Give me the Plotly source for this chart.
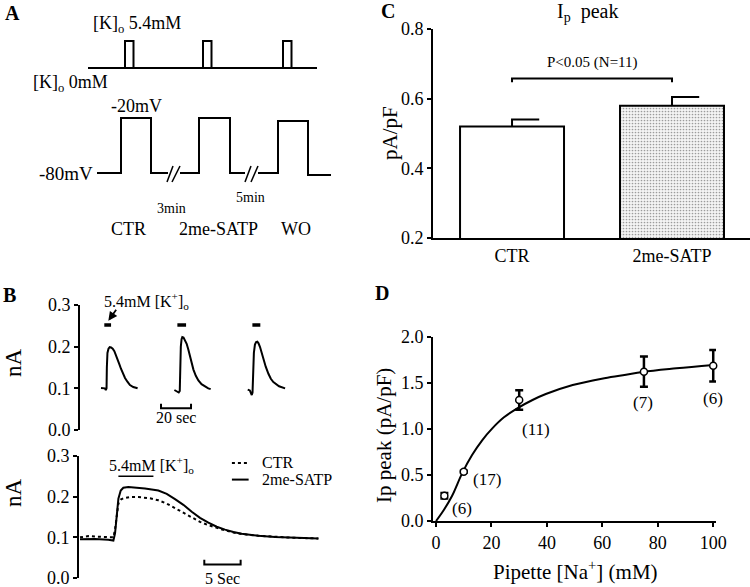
import plotly.graph_objects as go

W, H = 750, 587
FONT = "Liberation Serif"

# ---------------- Panel A (schematic protocol, schematic units) ----------------
k_line_x = [88, 317]
k_base = 68
k_pulse_top = 41
k_pulse_starts = [125, 203, 283]
k_pulse_width = 8.5

v_segments_x = [[97, 121, 121, 151, 151, 168],
                [180, 199, 199, 230, 230, 245],
                [258, 278, 278, 308, 308, 331]]
v_segments_y = [[173, 173, 118, 118, 173, 173],
                [173, 173, 118, 118, 173, 173],
                [173, 173, 121, 121, 175, 175]]
break_marks_x = [[167, 173], [172, 180], [245, 251], [251, 258]]
break_marks_y = [[182, 166], [182, 166], [182, 166], [182, 166]]

# ---------------- Panel B upper (three sweeps, seconds / nA) ----------------
sweep1_t = [0, 2.5, 3.2, 3.7, 3.9, 4.3, 5.0, 5.8, 6.7, 7.8, 8.9, 10, 11.1, 12.2, 13.3, 14.6, 16, 17.6, 19.3, 21.5, 24.4]
sweep1_i = [0.101, 0.100, 0.096, 0.100, 0.150, 0.185, 0.195, 0.199, 0.198, 0.195, 0.189, 0.180, 0.170, 0.158, 0.147, 0.135, 0.125, 0.116, 0.108, 0.103, 0.100]
sweep2_t = [48.9, 50.5, 51.8, 52.5, 52.8, 53.2, 53.7, 54.2, 55.0, 56.0, 57.1, 58.2, 59.3, 60.5, 61.6, 63.2, 64.9, 67, 69.3, 71.5, 73.1]
sweep2_i = [0.096, 0.093, 0.090, 0.094, 0.150, 0.200, 0.218, 0.223, 0.222, 0.216, 0.207, 0.193, 0.177, 0.160, 0.145, 0.130, 0.119, 0.110, 0.104, 0.100, 0.098]
sweep3_t = [97.8, 99.2, 100.0, 100.5, 101.0, 101.4, 101.9, 102.6, 103.4, 104.2, 105.0, 106.0, 107.0, 108.2, 109.8, 111.6, 113.2, 114.9, 116.8, 118.7, 122.7]
sweep3_i = [0.097, 0.095, 0.088, 0.084, 0.090, 0.140, 0.185, 0.205, 0.211, 0.212, 0.208, 0.199, 0.186, 0.170, 0.152, 0.135, 0.123, 0.115, 0.109, 0.105, 0.100]
k_app_upper = [[2.2, 6.7], [50.9, 56.7], [100.9, 106.2]]
k_app_level = 0.252
scale20_t = [40, 60]

# ---------------- Panel B lower (superimposed, seconds / nA) ----------------
ctr_t = [0, 1.15, 2.06, 3.9, 4.59, 4.82, 5.05, 5.28, 5.6, 5.96, 6.88, 8.03, 9.63, 10.78, 11.93, 13.07, 14.22, 15.37, 16.51, 17.66, 18.81, 19.95, 21.1, 22.25, 24.54, 26.83, 29.13, 31.4, 32.8]
ctr_i = [0.100, 0.103, 0.102, 0.101, 0.100, 0.120, 0.160, 0.183, 0.193, 0.196, 0.199, 0.199, 0.196, 0.191, 0.183, 0.172, 0.160, 0.148, 0.138, 0.130, 0.123, 0.117, 0.112, 0.108, 0.104, 0.101, 0.099, 0.098, 0.097]
satp_t = [0, 2.06, 3.9, 4.59, 4.82, 5.05, 5.28, 5.6, 5.96, 6.65, 7.57, 8.94, 10.78, 11.93, 13.07, 14.22, 15.37, 16.51, 17.66, 18.81, 19.95, 21.1, 22.25, 24.54, 26.83, 29.13, 31.4, 32.8]
satp_i = [0.095, 0.096, 0.094, 0.092, 0.110, 0.160, 0.195, 0.215, 0.222, 0.224, 0.223, 0.220, 0.215, 0.207, 0.194, 0.180, 0.163, 0.148, 0.136, 0.126, 0.119, 0.113, 0.109, 0.104, 0.101, 0.099, 0.098, 0.097]
k_app_lower = [5.28, 10.1]
k_app_lower_level = 0.25
scale5_t = [17.1, 22.1]

# ---------------- Panel C ----------------
c_groups = ["CTR", "2me-SATP"]
c_means = [0.52, 0.58]
c_sem = [0.02, 0.025]
c_sig_text = "P<0.05 (N=11)"

# ---------------- Panel D ----------------
na_conc = [3, 10, 30, 75, 100]
ip_peak = [0.275, 0.536, 1.315, 1.623, 1.688]
ip_sem = [0.03, 0.01, 0.105, 0.165, 0.172]
n_cells = ["(6)", "(17)", "(11)", "(7)", "(6)"]
n_label_x = [9.4, 18.5, 36.2, 74.6, 100]
n_label_y = [0.14, 0.446, 1.0, 1.286, 1.337]
fit_x = [0, 2.8, 5.8, 9.4, 13.0, 16.7, 20.3, 24.5, 29.3, 34.8, 39.6, 49.3, 59.8, 67.4, 74.6, 86.7, 100]
fit_y = [0, 0.12, 0.275, 0.518, 0.717, 0.880, 1.007, 1.127, 1.225, 1.315, 1.380, 1.478, 1.547, 1.583, 1.620, 1.659, 1.696]


def px(x):
    return x / W


def py(y):
    return 1 - y / H


fig = go.Figure()
blk = dict(color="black", width=2)

# Panel A traces
fig.add_trace(go.Scatter(x=k_line_x, y=[k_base, k_base], mode="lines", line=blk, xaxis="x", yaxis="y"))
for s in k_pulse_starts:
    fig.add_trace(go.Scatter(x=[s, s, s + k_pulse_width, s + k_pulse_width, s],
                             y=[k_base, k_pulse_top, k_pulse_top, k_base, k_base],
                             mode="lines", line=blk, xaxis="x", yaxis="y"))
for sx, sy in zip(v_segments_x, v_segments_y):
    fig.add_trace(go.Scatter(x=sx, y=sy, mode="lines", line=blk, xaxis="x", yaxis="y"))
for bx, by in zip(break_marks_x, break_marks_y):
    fig.add_trace(go.Scatter(x=bx, y=by, mode="lines", line=dict(color="black", width=1.5), xaxis="x", yaxis="y"))

# Panel B upper
for t, i in [(sweep1_t, sweep1_i), (sweep2_t, sweep2_i), (sweep3_t, sweep3_i)]:
    fig.add_trace(go.Scatter(x=t, y=i, mode="lines", line=blk, xaxis="x2", yaxis="y2"))
for a, b in k_app_upper:
    fig.add_trace(go.Scatter(x=[a, b], y=[k_app_level, k_app_level], mode="lines",
                             line=dict(color="black", width=3.5), xaxis="x2", yaxis="y2"))
fig.add_trace(go.Scatter(x=[scale20_t[0], scale20_t[0], scale20_t[1], scale20_t[1]],
                         y=[0.063, 0.052, 0.052, 0.063], mode="lines", line=blk, xaxis="x2", yaxis="y2"))

# Panel B lower
fig.add_trace(go.Scatter(x=ctr_t, y=ctr_i, mode="lines", line=dict(color="black", width=2, dash="dot"),
                         xaxis="x3", yaxis="y3"))
fig.add_trace(go.Scatter(x=satp_t, y=satp_i, mode="lines", line=blk, xaxis="x3", yaxis="y3"))
fig.add_trace(go.Scatter(x=k_app_lower, y=[k_app_lower_level] * 2, mode="lines",
                         line=dict(color="black", width=1.5), xaxis="x3", yaxis="y3"))
fig.add_trace(go.Scatter(x=[scale5_t[0], scale5_t[0], scale5_t[1], scale5_t[1]],
                         y=[0.045, 0.033, 0.033, 0.045], mode="lines", line=blk, xaxis="x3", yaxis="y3"))
fig.add_trace(go.Scatter(x=[20.9, 23.2], y=[0.283, 0.283], mode="lines",
                         line=dict(color="black", width=2, dash="dot"), xaxis="x3", yaxis="y3"))
fig.add_trace(go.Scatter(x=[20.9, 23.2], y=[0.242, 0.242], mode="lines", line=blk, xaxis="x3", yaxis="y3"))

# Panel C
fig.add_trace(go.Bar(x=[0, 1], y=c_means, width=0.65,
                     marker=dict(color=["white", "#f4f4f4"],
                                 line=dict(color="black", width=2),
                                 pattern=dict(shape=["", "."], fgcolor="#9a9a9a", bgcolor="white",
                                              size=3, solidity=0.25)),
                     xaxis="x4", yaxis="y4"))
for k, (m, e) in enumerate(zip(c_means, c_sem)):
    fig.add_trace(go.Scatter(x=[k, k, k + 0.17], y=[m, m + e, m + e], mode="lines", line=blk,
                             xaxis="x4", yaxis="y4"))
fig.add_trace(go.Scatter(x=[0, 0, 1, 1], y=[0.647, 0.658, 0.658, 0.647], mode="lines", line=blk,
                         xaxis="x4", yaxis="y4"))

# Panel D
fig.add_trace(go.Scatter(x=fit_x, y=fit_y, mode="lines", line=dict(color="black", width=2, shape="spline"),
                         xaxis="x5", yaxis="y5", cliponaxis=False))
fig.add_trace(go.Scatter(x=na_conc, y=ip_peak, mode="markers", cliponaxis=False,
                         marker=dict(symbol="circle", size=7, color="white", line=dict(color="black", width=1.5)),
                         error_y=dict(type="data", array=ip_sem, color="black", thickness=2.5, width=4),
                         xaxis="x5", yaxis="y5"))

tickfont = dict(family=FONT, size=18, color="black")
hidden = dict(visible=False, showgrid=False, zeroline=False)
yax = dict(showline=True, linecolor="black", linewidth=2, ticks="outside", ticklen=4, tickwidth=2,
           tickcolor="black", showgrid=False, zeroline=False, tickfont=tickfont, tickformat=".1f",
           automargin=False, ticklabeloverflow="allow")

fig.update_layout(
    width=W, height=H, autosize=False, showlegend=False, hovermode=False,
    margin=dict(l=0, r=0, t=0, b=0, pad=0, autoexpand=False),
    paper_bgcolor="white", plot_bgcolor="rgba(0,0,0,0)",
    font=dict(family=FONT, color="black"),
    xaxis=dict(domain=[0, px(370)], range=[0, 370], **hidden),
    yaxis=dict(domain=[py(280), 1], range=[280, 0], anchor="x", **hidden),
    xaxis2=dict(domain=[px(80), px(370)], range=[-14, 179.3], anchor="y2", **hidden),
    yaxis2=dict(domain=[py(430), py(305)], range=[0, 0.3], anchor="x2", tickvals=[0, 0.1, 0.2, 0.3], **yax),
    xaxis3=dict(domain=[px(79), px(370)], range=[-0.14, 39.9], anchor="y3", **hidden),
    yaxis3=dict(domain=[py(578), py(456)], range=[0, 0.3], anchor="x3", tickvals=[0, 0.1, 0.2, 0.3], **yax),
    xaxis4=dict(domain=[px(433), 1], range=[-0.494, 1.4875], anchor="y4", showline=True, linecolor="black",
                linewidth=2, ticks="", tickvals=[0, 1], ticktext=c_groups, tickfont=tickfont,
                showgrid=False, zeroline=False, automargin=False, ticklabeloverflow="allow"),
    yaxis4=dict(domain=[py(238), py(29)], range=[0.2, 0.8], anchor="x4", tickvals=[0.2, 0.4, 0.6, 0.8], **yax),
    xaxis5=dict(domain=[px(433), px(716)], range=[-1.1, 101], anchor="y5", showline=True, linecolor="black",
                linewidth=2, ticks="outside", ticklen=4, tickwidth=2, tickcolor="black",
                tickvals=[0, 20, 40, 60, 80, 100], tickfont=tickfont, showgrid=False, zeroline=False,
                automargin=False, ticklabeloverflow="allow"),
    yaxis5=dict(domain=[py(521), py(337)], range=[0, 2.0], anchor="x5", tickvals=[0, 0.5, 1.0, 1.5, 2.0], **yax),
)

ann = []


def txt(text, x, y, size, xref="paper", yref="paper", angle=0, bold=False, xanchor="center", yanchor="middle"):
    if bold:
        text = "<b>" + text + "</b>"
    ann.append(dict(text=text, x=x, y=y, xref=xref, yref=yref, showarrow=False, textangle=angle,
                    xanchor=xanchor, yanchor=yanchor, font=dict(family=FONT, size=size, color="black")))


# panel letters
txt("A", px(12), py(13), 20, bold=True)
txt("B", px(9), py(295), 20, bold=True)
txt("C", px(388), py(11), 20, bold=True)
txt("D", px(382), py(293), 20, bold=True)

# Panel A text
txt("[K]<sub>o</sub> 5.4mM", 91, 24, 18, "x", "y", xanchor="left")
txt("[K]<sub>o</sub> 0mM", 31, 83, 18, "x", "y", xanchor="left")
txt("-20mV", 136, 106, 18, "x", "y")
txt("-80mV", 66, 173, 19, "x", "y")
txt("3min", 171, 208, 14, "x", "y")
txt("5min", 250, 197, 14, "x", "y")
txt("CTR", 128, 229, 18, "x", "y")
txt("2me-SATP", 218, 229, 18, "x", "y")
txt("WO", 296, 229, 18, "x", "y")

# Panel B text
txt("nA", px(13), py(363), 23, angle=-90)
txt("nA", px(13), py(493), 23, angle=-90)
txt("5.4mM [K<sup>+</sup>]<sub>o</sub>", px(146), py(301), 16)
txt("20 sec", 50, 0.03, 16, "x2", "y2")
txt("5.4mM [K<sup>+</sup>]<sub>o</sub>", 9.9, 0.278, 16, "x3", "y3")
txt("CTR", 24.8, 0.283, 16, "x3", "y3", xanchor="left")
txt("2me-SATP", 24.8, 0.242, 16, "x3", "y3", xanchor="left")
txt("5 Sec", px(222), py(578), 16)
ann.append(dict(x=4.9, y=0.262, ax=10.8, ay=0.292, xref="x2", yref="y2", axref="x2", ayref="y2",
                showarrow=True, arrowhead=2, arrowsize=1, arrowwidth=1.8, arrowcolor="black", text=""))

# Panel C text
txt("I<sub>p</sub>  peak", px(587), py(12), 20)
txt("pA/pF", px(390), py(133), 21, angle=-90)
txt(c_sig_text, 0.5, 0.705, 15, "x4", "y4")

# Panel D text
txt("Ip peak (pA/pF)", px(384), py(436), 21, angle=-90)
txt("Pipette [Na<sup>+</sup>] (mM)", px(575), py(570), 21)
for lab, lx, ly in zip(n_cells, n_label_x, n_label_y):
    txt(lab, lx, ly, 17, "x5", "y5")

fig.update_layout(annotations=ann)
fig.write_html("out.html", config={"displayModeBar": False, "staticPlot": True},
               post_script="document.body.style.margin='0px';document.body.style.padding='0px';")
